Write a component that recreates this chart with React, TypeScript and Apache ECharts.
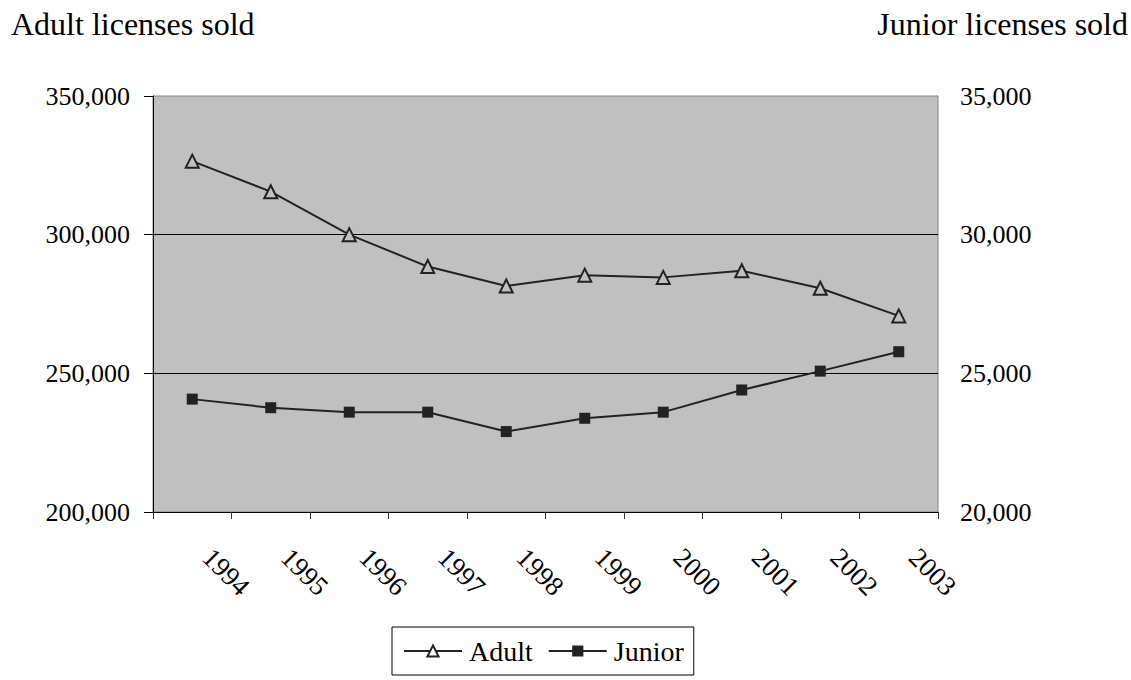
import React, { useEffect, useRef } from "react";
import * as echarts from "echarts";

const years = ["1994", "1995", "1996", "1997", "1998", "1999", "2000", "2001", "2002", "2003"];
const adultSold = [326500, 315500, 300000, 288500, 281500, 285400, 284600, 287000, 280700, 270700];
const juniorSold = [24070, 23760, 23600, 23600, 22900, 23380, 23600, 24400, 25080, 25780];
const leftTicks = { min: 200000, max: 350000, interval: 50000 };
const rightTicks = { min: 20000, max: 35000, interval: 5000 };
const leftTitle = "Adult licenses sold";
const rightTitle = "Junior licenses sold";

const FONT = "Liberation Serif";

export default function App() {
  const ref = useRef<HTMLDivElement>(null);
  useEffect(() => {
    if (!ref.current) return;
    const chart = echarts.init(ref.current, null, { renderer: "svg" });
    const fmt = (v: number) => v.toLocaleString("en-US");
    chart.setOption({
      animation: false,
      backgroundColor: "#ffffff",
      textStyle: { fontFamily: FONT, color: "#000" },
      title: [
        { text: leftTitle, left: 11, top: 8, padding: 0, textStyle: { fontFamily: FONT, fontSize: 32, fontWeight: "normal", color: "#000" } },
        { text: rightTitle, right: 3, top: 8, padding: 0, textStyle: { fontFamily: FONT, fontSize: 32, fontWeight: "normal", color: "#000" } },
      ],
      grid: {
        left: 153, top: 96, width: 785, height: 416,
        show: true, backgroundColor: "#C0C0C0", borderColor: "#808080", borderWidth: 1,
      },
      legend: {
        left: 392, top: 627,
        padding: [10, 10, 10, 11],
        itemGap: 15, itemWidth: 58, itemHeight: 14,
        borderColor: "#000", borderWidth: 1, borderRadius: 0,
        backgroundColor: "#fff",
        textStyle: { fontFamily: FONT, fontSize: 28, color: "#000", padding: [0, 0, 0, 2] },
        data: [
          { name: "Adult", itemStyle: { color: "#fff" } },
          { name: "Junior" },
        ],
      },
      xAxis: {
        type: "category",
        data: years,
        boundaryGap: true,
        axisLine: { show: true, lineStyle: { color: "#000", width: 1 } },
        axisTick: { show: true, length: 7, lineStyle: { color: "#333" } },
        axisLabel: { rotate: -45, margin: 26, padding: [0, 0, 0, 21], fontFamily: FONT, fontSize: 27, color: "#000", interval: 0 },
        splitLine: { show: false },
      },
      yAxis: [
        {
          type: "value", position: "left",
          min: leftTicks.min, max: leftTicks.max, interval: leftTicks.interval,
          axisLine: { show: true, lineStyle: { color: "#000", width: 1 } },
          axisTick: { show: true, length: 9, lineStyle: { color: "#000" } },
          axisLabel: { margin: 23, fontFamily: FONT, fontSize: 26, color: "#000", formatter: fmt },
          splitLine: { show: true, showMinLine: false, showMaxLine: false, lineStyle: { color: "#000", width: 1 } },
        },
        {
          type: "value", position: "right",
          min: rightTicks.min, max: rightTicks.max, interval: rightTicks.interval,
          axisLine: { show: false },
          axisTick: { show: false },
          axisLabel: { margin: 22, fontFamily: FONT, fontSize: 26, color: "#000", formatter: fmt },
          splitLine: { show: false },
        },
      ],
      series: [
        {
          name: "Adult", type: "line", yAxisIndex: 0, data: adultSold,
          symbol: "triangle", symbolSize: 13,
          lineStyle: { color: "#222", width: 2 },
          itemStyle: { color: "#C0C0C0", borderColor: "#222", borderWidth: 2 },
        },
        {
          name: "Junior", type: "line", yAxisIndex: 1, data: juniorSold,
          symbol: "rect", symbolSize: 11,
          lineStyle: { color: "#222", width: 2 },
          itemStyle: { color: "#222", borderColor: "#222", borderWidth: 0 },
        },
      ],
    });
    return () => chart.dispose();
  }, []);
  return <div ref={ref} style={{ position: "absolute", left: 0, top: 0, width: 1131, height: 680 }} />;
}
